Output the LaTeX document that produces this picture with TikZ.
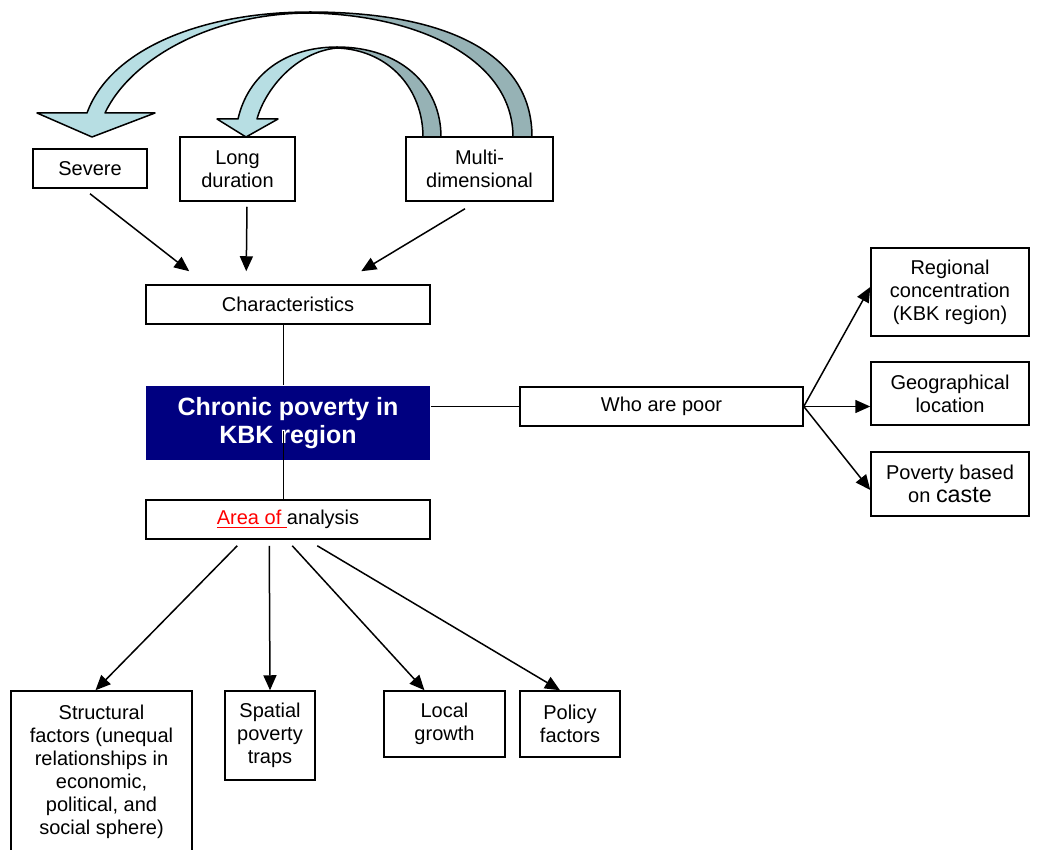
\documentclass[tikz,border=0pt]{standalone}
\usepackage{fontspec}
\setmainfont{Liberation Sans}
\usetikzlibrary{arrows.meta,calc}
\definecolor{navy}{RGB}{0,0,128}
\definecolor{ribbonlight}{RGB}{183,222,227}
\definecolor{ribbondark}{RGB}{150,178,181}
\begin{document}
\begin{tikzpicture}[x=0.6pt,y=-0.6pt,
  box/.style={draw=black,line width=0.9pt,fill=white,align=center,inner sep=0pt,
    font=\fontsize{12}{13.8}\selectfont},
  sz/.style 2 args={minimum width={#1*0.6pt},minimum height={#2*0.6pt}},
  conn/.style={line width=0.9pt},
  arr/.style={conn,-{Triangle[length=9pt,width=7.8pt]}},
  rib/.style={draw=black,line width=0.9pt,line join=round}]
\clip (0,0) rectangle (1041,849);
\fill[white] (0,0) rectangle (1041,849);
% curved ribbon arrows
\filldraw[rib,fill=ribbonlight] (310,12) .. controls (200,12) and (110,50) .. (87,113)
  -- (37,113) -- (92,137) -- (155,113) -- (105,113)
  .. controls (130,60) and (210,13) .. (310,13) -- cycle;
\filldraw[rib,fill=ribbondark] (310,12) .. controls (440,12) and (532,50) .. (532,137)
  -- (513,137) .. controls (513,60) and (420,15) .. (310,13) -- cycle;
\filldraw[rib,fill=ribbonlight] (337,47) .. controls (285,47) and (248,75) .. (238,119)
  -- (217,119) -- (246,137) -- (278,119) -- (257,119)
  .. controls (265,90) and (295,52) .. (337,48) -- cycle;
\filldraw[rib,fill=ribbondark] (337,47) .. controls (400,47) and (441,85) .. (441,137)
  -- (423,137) .. controls (423,90) and (390,50) .. (337,48) -- cycle;
% nodes
\node[box,sz={114}{39}] (sev) at (90,168.5) {Severe};
\node[box,sz={115}{64}] (long) at (237.5,169) {Long\\duration};
\node[box,sz={147}{64}] (multi) at (479.5,169) {Multi-\\dimensional};
\node[box,sz={284}{39}] (char) at (288,304.5) {Characteristics};
\node[box,sz={284}{74},draw=none,fill=navy,text=white,
  font=\fontsize{15}{17.25}\selectfont\bfseries] (chronic) at (288,423) {\raisebox{-1.5pt}{Chronic poverty in}\\\raisebox{-1.5pt}{KBK region}};
\node[box,sz={284}{39}] (area) at (288,519.5) {\textcolor{red}{\underline{Area of\ }}analysis};
\node[box,sz={283}{39}] (who) at (661.5,406.5) {Who are poor};
\node[box,sz={158}{88}] (reg) at (950,292) {Regional\\concentration\\(KBK region)};
\node[box,sz={158}{63}] (geo) at (950,393.5) {Geographical\\location};
\node[box,sz={158}{64}] (pov) at (950,484) {Poverty based\\on {\fontsize{14}{14}\selectfont caste}};
\node[box,sz={181}{162}] (struct) at (101.5,772) {Structural\\factors (unequal\\relationships in\\economic,\\political, and\\social sphere)};
\node[box,sz={90}{89}] (spat) at (270,735.5) {Spatial\\poverty\\traps};
\node[box,sz={121}{66}] (local) at (444.5,724) {Local\\growth};
\node[box,sz={100}{66}] (policy) at (570,724) {Policy\\factors};
% connectors
\draw[arr] ($(sev.south)+(0,5)$) -- ($(char.north west)+(44,-13)$);
\draw[arr] ($(long.south)+(9.5,5)$) -- ($(char.north west)+(101,-13)$);
\draw[arr] ($(multi.south)+(-14.5,7)$) -- ($(char.north west)+(216,-13)$);
\draw[conn] ($(char.south west)+(138,0)$) -- ($(chronic.north west)+(138,0)$);
\draw[conn] ($(chronic.north west)+(138,46)$) -- ($(area.north west)+(138,0)$);
\draw[conn] (chronic.east |- who.west) -- (who.west);
\draw[arr] (who.east) -- ($(reg.west)+(0,-5)$);
\draw[arr] (who.east) -- (who.east -| geo.west);
\draw[arr] (who.east) -- ($(pov.west)+(0,6)$);
\draw[arr] ($(area.south west)+(92,6)$) -- ($(struct.north)+(-6,0)$);
\draw[arr] ($(area.south west)+(124,6)$) -- (spat.north);
\draw[arr] ($(area.south west)+(147,6)$) -- ($(local.north)+(-20,0)$);
\draw[arr] ($(area.south west)+(172,6)$) -- ($(policy.north)+(-10,0)$);
\end{tikzpicture}
\end{document}
